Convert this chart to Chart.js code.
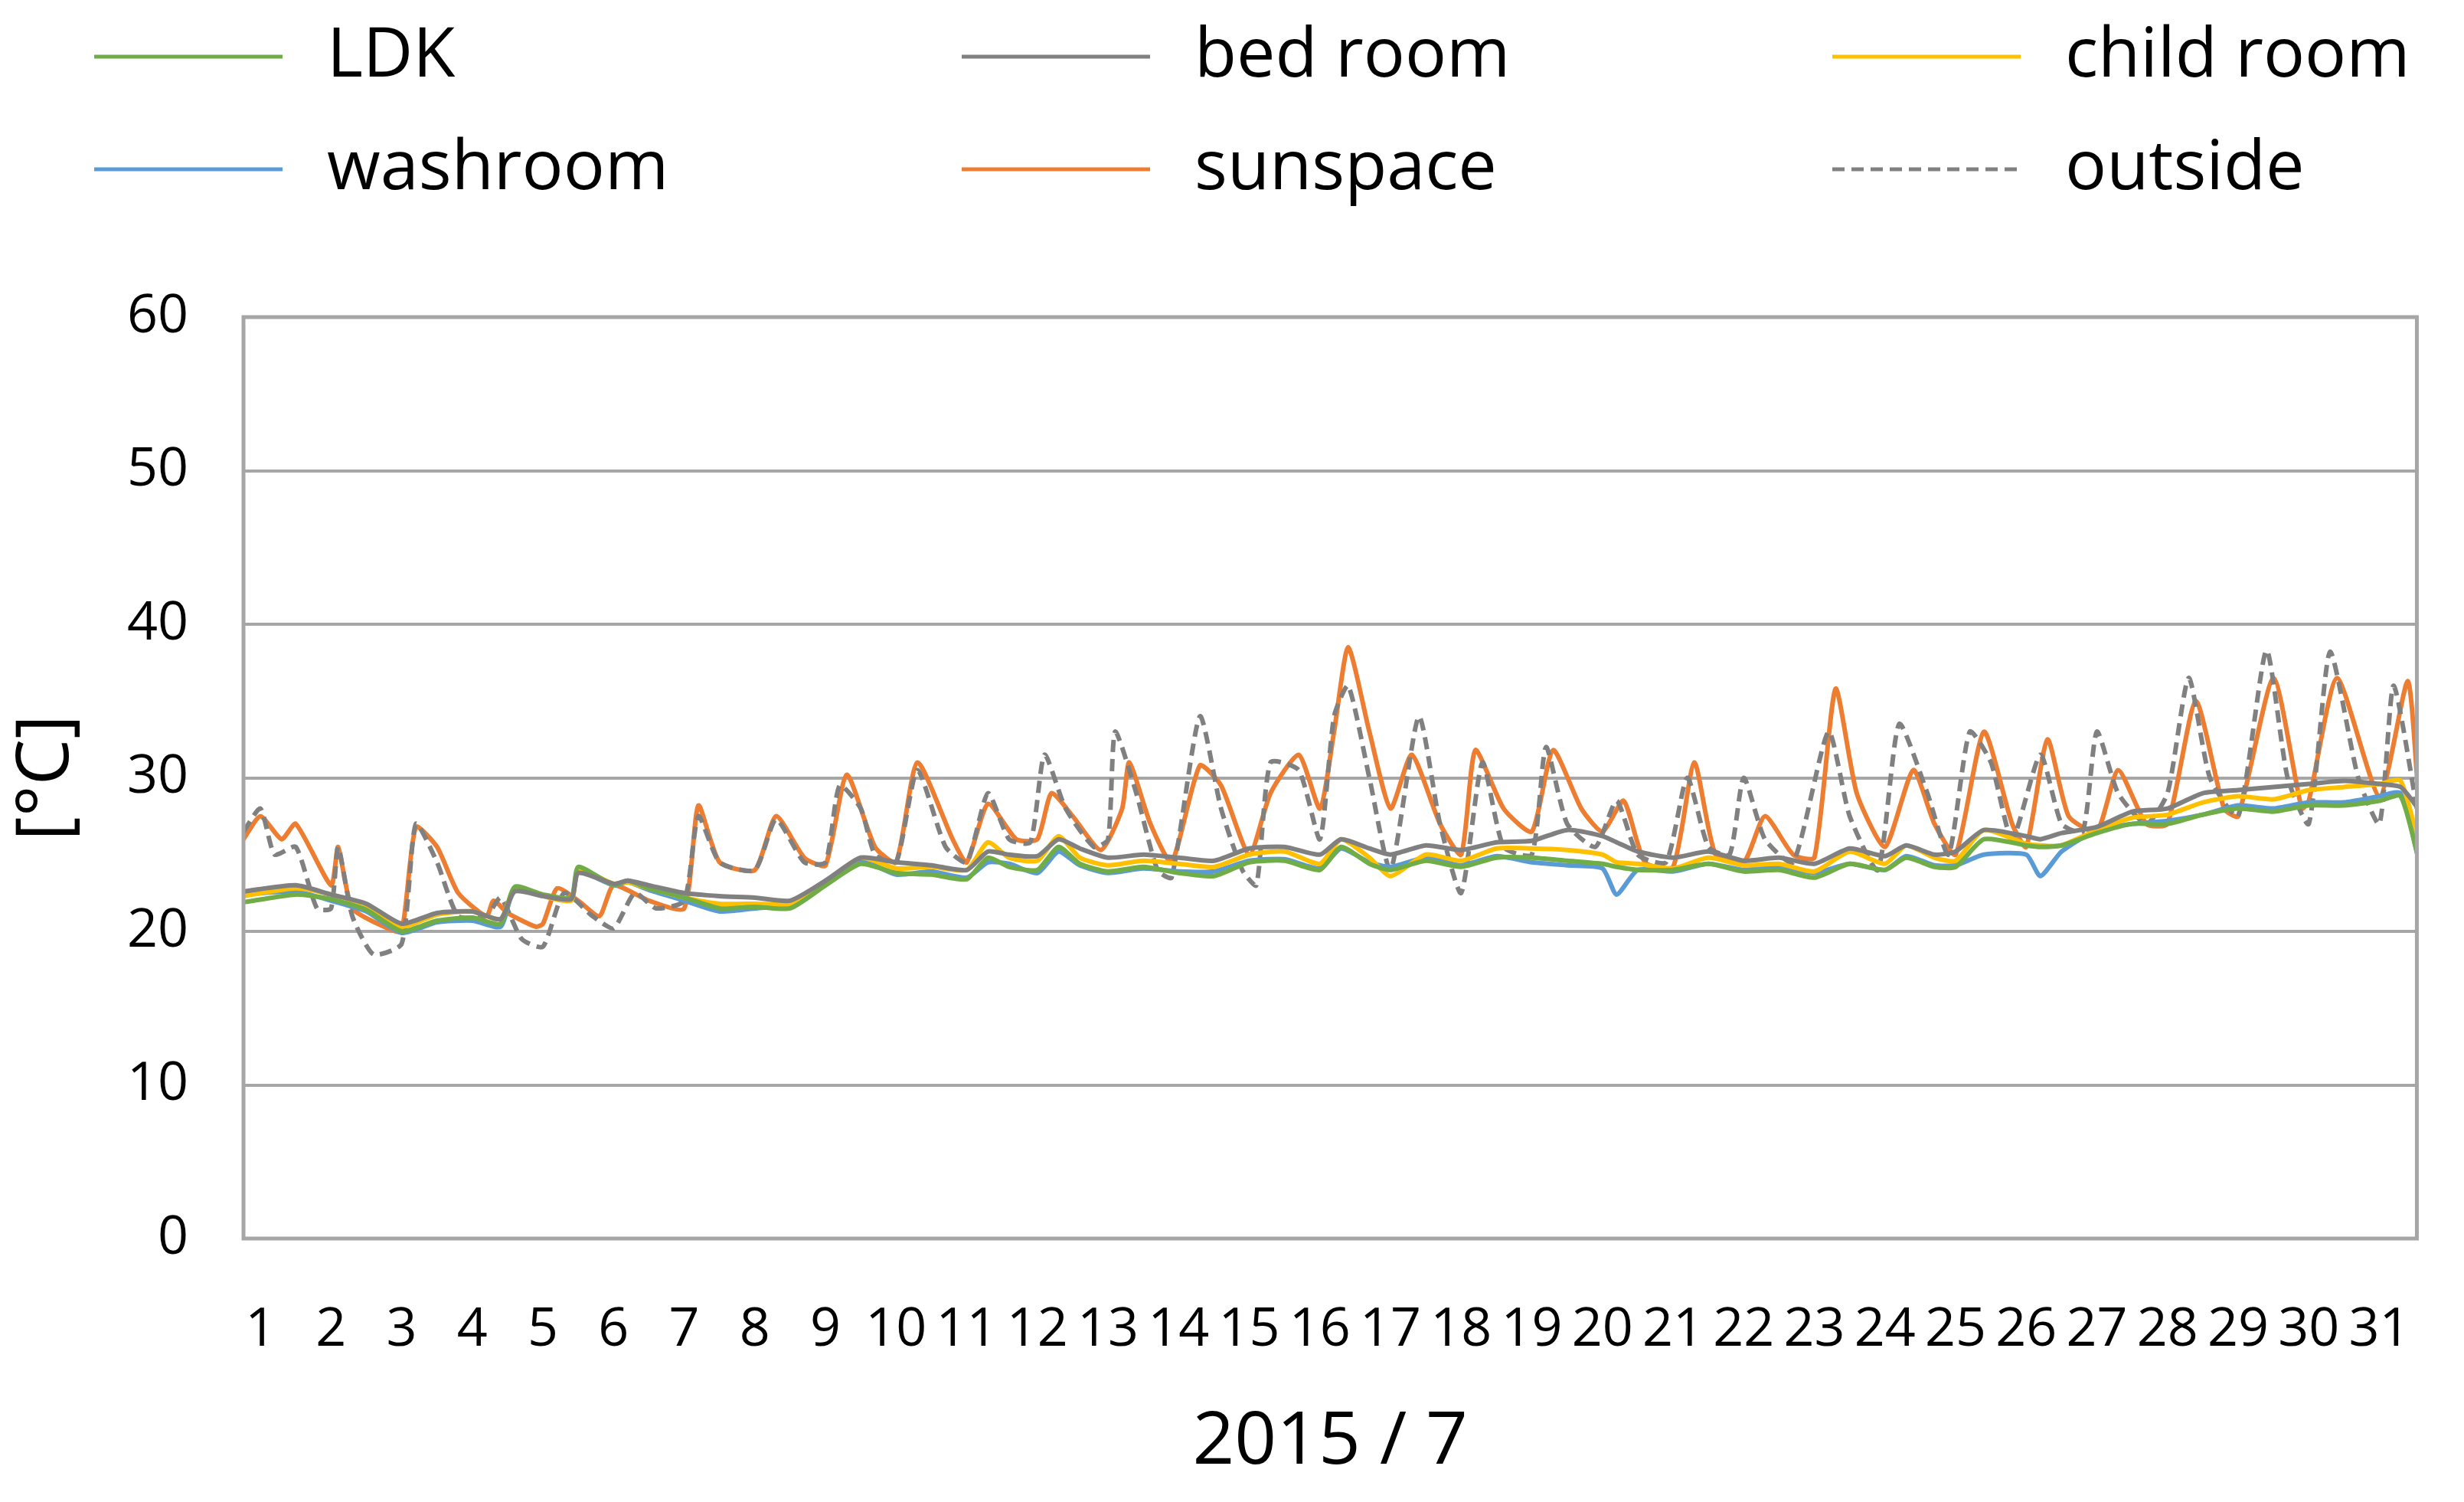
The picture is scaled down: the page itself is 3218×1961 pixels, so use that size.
<!DOCTYPE html>
<html>
<head>
<meta charset="utf-8">
<script src="https://cdn.jsdelivr.net/npm/chart.js@4/dist/chart.umd.min.js"></script>
<style>
  html, body { margin: 0; padding: 0; background: #fff; overflow: hidden; }
  canvas { display: block; }
</style>
</head>
<body>
<canvas id="c" width="3218" height="1961"></canvas>
<script>
// day of July 2015 (fractional) for the indoor rooms
const indoorDays = [0.76, 1.5, 2.0, 2.5, 3.0, 3.5, 4.0, 4.4, 4.6, 5.0, 5.4, 5.5, 6.0, 6.2, 6.5, 7.0, 7.5, 8.0, 8.5, 9.0,
  9.5, 10.0, 10.5, 11.0, 11.3, 11.6, 12.0, 12.3, 12.6, 13.0, 13.5, 14.0, 14.5, 15.0, 15.5, 16.0, 16.3, 16.7, 17.0, 17.5,
  18.0, 18.5, 19.0, 19.5, 20.0, 20.2, 20.5, 21.0, 21.5, 22.0, 22.5, 23.0, 23.5, 24.0, 24.3, 24.7, 25.0, 25.4, 26.0, 26.2,
  26.5, 27.0, 27.5, 28.0, 28.5, 29.0, 29.5, 30.0, 30.5, 31.0, 31.3, 31.55];

const ldk = [21.9, 22.4, 22.1, 21.4, 20.0, 20.7, 20.9, 20.5, 22.9, 22.4, 22.2, 24.2, 23.0, 23.3, 22.8, 22.2, 21.5, 21.6, 21.5, 23.0,
  24.4, 23.8, 23.7, 23.4, 24.8, 24.2, 24.0, 25.5, 24.4, 23.9, 24.2, 23.8, 23.6, 24.5, 24.6, 24.0, 25.5, 24.4, 24.0, 24.6,
  24.2, 24.8, 24.8, 24.6, 24.4, 24.2, 24.0, 24.0, 24.4, 23.9, 24.0, 23.5, 24.4, 24.0, 24.8, 24.2, 24.2, 26.0, 25.6, 25.5,
  25.6, 26.4, 27.0, 27.0, 27.6, 28.0, 27.8, 28.2, 28.2, 28.5, 28.8, 24.8];
const bedRoom = [22.6, 23.0, 22.4, 21.8, 20.5, 21.2, 21.3, 20.8, 22.6, 22.3, 22.1, 23.8, 23.1, 23.3, 23.0, 22.5, 22.3, 22.2, 22.0, 23.3,
  24.8, 24.5, 24.3, 24.0, 25.2, 25.0, 24.9, 26.0, 25.4, 24.8, 25.0, 24.8, 24.6, 25.4, 25.5, 25.0, 26.0, 25.4, 25.0, 25.6,
  25.3, 25.8, 25.9, 26.6, 26.2, 25.8, 25.2, 24.8, 25.2, 24.6, 24.8, 24.4, 25.4, 24.9, 25.6, 25.0, 25.2, 26.6, 26.2, 26.0,
  26.4, 26.8, 27.8, 28.0, 29.0, 29.2, 29.4, 29.6, 29.8, 29.6, 29.4, 28.0];
const childRoom = [22.3, 22.8, 22.4, 21.7, 20.3, 21.1, 21.3, 20.8, 22.8, 22.3, 22.0, 24.0, 23.1, 23.2, 22.8, 22.2, 21.8, 21.8, 21.8, 23.2,
  24.8, 24.1, 24.2, 24.0, 25.8, 24.8, 24.6, 26.2, 24.8, 24.3, 24.6, 24.4, 24.2, 25.0, 25.2, 24.4, 26.0, 24.8, 23.6, 25.0,
  24.6, 25.4, 25.4, 25.3, 25.0, 24.5, 24.4, 24.1, 24.8, 24.3, 24.4, 23.9, 25.2, 24.4, 25.6, 24.8, 24.6, 26.6, 25.7, 25.6,
  25.6, 26.6, 27.4, 27.6, 28.4, 28.8, 28.6, 29.2, 29.4, 29.6, 29.8, 25.8];
const washroom = [22.4, 22.6, 22.0, 21.3, 19.9, 20.6, 20.7, 20.3, 22.8, 22.3, 22.1, 23.9, 23.0, 23.2, 22.7, 22.0, 21.3, 21.5, 21.8, 23.3,
  24.6, 23.7, 23.9, 23.5, 24.5, 24.4, 23.8, 25.2, 24.3, 23.8, 24.1, 23.9, 23.9, 24.6, 24.7, 24.1, 25.4, 24.5, 24.2, 24.8,
  24.3, 24.9, 24.5, 24.3, 24.1, 22.4, 24.0, 23.9, 24.4, 24.0, 24.2, 23.8, 24.4, 24.0, 24.9, 24.3, 24.3, 25.0, 25.0, 23.6,
  25.2, 26.6, 27.0, 27.2, 27.6, 28.2, 28.0, 28.4, 28.4, 28.8, 29.0, 24.8];

const sunspaceDays = [0.76, 1.0, 1.3, 1.5, 2.0, 2.1, 2.3, 2.8, 3.0, 3.2, 3.5, 3.8, 4.2, 4.3, 4.5, 4.9, 5.0, 5.2, 5.5, 5.8,
  6.0, 6.5, 7.0, 7.2, 7.5, 8.0, 8.3, 8.7, 9.0, 9.3, 9.7, 10.0, 10.3, 10.8, 11.0, 11.3, 11.7, 12.0, 12.2, 12.5,
  12.9, 13.2, 13.3, 13.6, 13.9, 14.3, 14.6, 15.0, 15.3, 15.7, 16.0, 16.2, 16.4, 16.7, 17.0, 17.3, 17.7, 18.0, 18.2, 18.6,
  19.0, 19.3, 19.7, 20.0, 20.3, 20.6, 21.0, 21.3, 21.6, 22.0, 22.3, 22.7, 23.0, 23.3, 23.6, 24.0, 24.4, 24.7, 25.0, 25.4,
  25.8, 26.0, 26.3, 26.6, 27.0, 27.3, 27.7, 28.0, 28.4, 28.8, 29.0, 29.5, 29.9, 30.0, 30.4, 31.0, 31.4, 31.55];
const sunspace = [26.0, 27.5, 26.0, 27.0, 23.0, 25.5, 21.5, 20.2, 20.0, 26.8, 25.5, 22.5, 21.0, 22.0, 21.2, 20.3, 20.5, 22.8, 22.0, 21.0,
  23.0, 22.0, 21.5, 28.2, 24.5, 24.0, 27.5, 24.8, 24.3, 30.2, 25.5, 24.5, 31.0, 26.0, 24.5, 28.3, 26.0, 26.0, 29.0, 27.5,
  25.3, 28.0, 31.0, 27.0, 24.5, 30.8, 29.5, 25.0, 29.0, 31.5, 28.0, 33.0, 38.5, 33.0, 28.0, 31.5, 27.0, 25.0, 31.8, 28.0,
  26.5, 31.8, 28.0, 26.5, 28.5, 24.5, 24.2, 31.0, 25.0, 24.5, 27.5, 25.0, 24.8, 35.8, 29.0, 25.5, 30.5, 27.0, 25.0, 33.0,
  27.0, 25.5, 32.5, 27.5, 26.5, 30.5, 27.0, 27.0, 35.0, 28.0, 27.5, 36.5, 28.0, 28.5, 36.5, 28.8, 36.3, 29.0];

const outsideDays = [0.76, 1.0, 1.2, 1.5, 1.8, 2.0, 2.1, 2.3, 2.6, 3.0, 3.2, 3.5, 3.8, 4.2, 4.4, 4.7, 5.0, 5.3, 5.7, 6.0,
  6.3, 6.6, 7.0, 7.2, 7.5, 8.0, 8.3, 8.7, 9.0, 9.2, 9.5, 9.7, 10.0, 10.3, 10.7, 11.0, 11.3, 11.6, 11.9, 12.1,
  12.4, 12.8, 13.0, 13.1, 13.4, 13.7, 13.9, 14.3, 14.6, 14.9, 15.1, 15.3, 15.7, 16.0, 16.2, 16.4, 16.7, 17.0, 17.4, 17.7,
  18.0, 18.3, 18.6, 19.0, 19.2, 19.5, 19.9, 20.2, 20.5, 20.9, 21.2, 21.5, 21.8, 22.0, 22.3, 22.7, 23.2, 23.5, 23.9, 24.2,
  24.6, 24.9, 25.2, 25.5, 25.8, 26.2, 26.5, 26.8, 27.0, 27.3, 27.7, 28.0, 28.3, 28.6, 29.0, 29.4, 29.7, 30.0, 30.3, 30.7,
  31.0, 31.2, 31.55];
const outside = [26.5, 28.0, 25.0, 25.5, 21.5, 21.5, 25.5, 21.0, 18.5, 19.2, 27.0, 24.5, 21.0, 21.0, 22.2, 19.5, 19.0, 22.5, 21.0, 20.2,
  22.5, 21.5, 22.0, 27.5, 24.5, 24.0, 27.3, 24.5, 24.5, 29.5, 28.0, 25.0, 24.5, 30.5, 25.5, 24.5, 29.0, 26.0, 25.8, 31.5,
  28.0, 25.5, 26.0, 33.0, 29.0, 24.0, 23.5, 34.0, 28.0, 24.0, 23.0, 31.0, 30.5, 26.0, 34.0, 36.0, 30.0, 24.0, 34.0, 27.0,
  22.5, 31.0, 25.5, 25.0, 32.0, 27.0, 25.5, 28.5, 25.0, 24.5, 30.0, 25.5, 25.0, 30.0, 26.0, 24.5, 33.0, 27.5, 24.0, 33.5,
  29.0, 25.0, 33.0, 31.0, 26.0, 31.5, 27.0, 26.5, 33.0, 29.0, 27.0, 29.0, 36.5, 30.0, 27.5, 38.3, 30.0, 27.0, 38.2, 30.0,
  27.0, 36.0, 27.5];

const dayTicks = Array.from({ length: 31 }, (_, i) => i + 1);
const yTicks = [0, 10, 20, 30, 40, 50, 60];

const pairs = (xs, ys) => xs.map((x, i) => ({ x: x, y: ys[i] }));

function line(label, xs, ys, color, dash) {
  return {
    label: label,
    data: pairs(xs, ys),
    borderColor: color,
    backgroundColor: color,
    borderWidth: dash ? 6 : 6,
    borderDash: dash || [],
    pointRadius: 0,
    tension: 0.2,
    fill: false
  };
}

const datasets = [
  line("bed room", indoorDays, bedRoom, "#808080"),
  line("LDK", indoorDays, ldk, "#70ad47"),
  line("child room", indoorDays, childRoom, "#ffc000"),
  line("washroom", indoorDays, washroom, "#5b9bd5"),
  line("outside", outsideDays, outside, "#808080", [16, 9]),
  line("sunspace", sunspaceDays, sunspace, "#ed7d31")
];

// legend order as in the figure: 3 columns x 2 rows
const legendOrder = ["LDK", "bed room", "child room", "washroom", "sunspace", "outside"];

const legendPlugin = {
  id: "gridLegend",
  afterDraw(chart) {
    const ctx = chart.ctx;
    const colX = [123, 1256, 2393];
    const rowY = [74, 221];
    ctx.save();
    ctx.font = "90px 'Open Sans', sans-serif";
    ctx.textBaseline = "middle";
    ctx.fillStyle = "#000";
    legendOrder.forEach((name, i) => {
      const ds = chart.data.datasets.find(d => d.label === name);
      const x = colX[i % 3], y = rowY[Math.floor(i / 3)];
      ctx.strokeStyle = ds.borderColor;
      ctx.lineWidth = 5;
      ctx.setLineDash(ds.borderDash);
      ctx.beginPath();
      ctx.moveTo(x, y);
      ctx.lineTo(x + 246, y);
      ctx.stroke();
      ctx.setLineDash([]);
      ctx.fillText(name, x + 304, y);
    });
    // plot frame
    const a = chart.chartArea;
    ctx.strokeStyle = "#a6a6a6";
    ctx.lineWidth = 5;
    ctx.strokeRect(a.left, a.top, a.right - a.left, a.bottom - a.top);
    ctx.restore();
  }
};

new Chart(document.getElementById("c"), {
  type: "line",
  data: { datasets: datasets },
  plugins: [legendPlugin],
  options: {
    responsive: false,
    devicePixelRatio: 1,
    animation: false,
    layout: { padding: { top: 414, right: 25, left: 0, bottom: 0 } },
    plugins: { legend: { display: false }, tooltip: { enabled: false } },
    scales: {
      x: {
        type: "linear",
        min: 0.76,
        max: 31.53,
        afterFit: s => { s.height = 344; },
        afterBuildTicks: s => { s.ticks = dayTicks.map(v => ({ value: v })); },
        grid: { display: false },
        border: { display: false },
        ticks: { color: "#000", font: { size: 70, family: "'Open Sans', sans-serif" }, padding: 70, maxRotation: 0, autoSkip: false },
        title: { display: true, text: "2015 / 7", color: "#000", font: { size: 96, family: "'Open Sans', sans-serif" }, padding: { top: 20, bottom: 20 } }
      },
      y: {
        min: 0,
        max: 60,
        afterFit: s => { s.width = 318; },
        afterBuildTicks: s => { s.ticks = yTicks.map(v => ({ value: v })); },
        grid: { color: "#a6a6a6", lineWidth: 4, drawTicks: false },
        border: { display: false },
        ticks: { color: "#000", font: { size: 70, family: "'Open Sans', sans-serif" }, padding: 72 },
        title: { display: true, text: "[°C]", color: "#000", font: { size: 96, family: "'Open Sans', sans-serif" }, padding: 4 }
      }
    }
  }
});
</script>
</body>
</html>
